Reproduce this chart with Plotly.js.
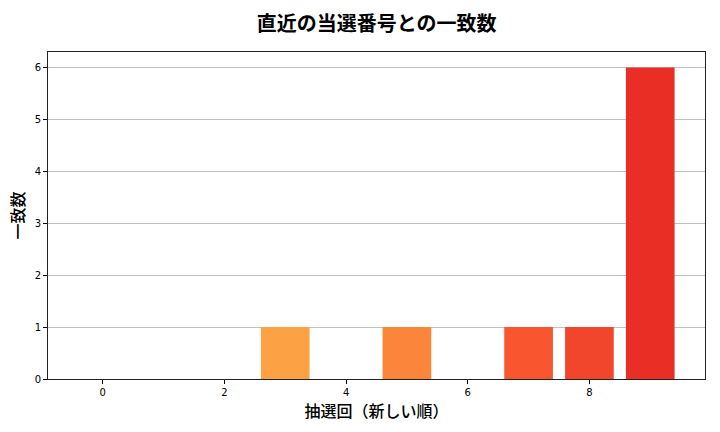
<!DOCTYPE html>
<html>
<head>
<meta charset="utf-8">
<script src="https://cdn.plot.ly/plotly-3.0.1.min.js"></script>
<style>html,body{margin:0;padding:0;background:#fff;}#chart{width:720px;height:432px;}</style>
</head>
<body>
<div id="chart"></div>
<script>
const drawIndex = [0, 1, 2, 3, 4, 5, 6, 7, 8, 9];
const matchCount = [0, 0, 0, 1, 0, 1, 0, 1, 1, 6];
const barColors = ['#ffe37f', '#fed06c', '#febc5b', '#fca245', '#fb923f', '#fb863b', '#fa6a33', '#f9552e', '#f1462b', '#e92f25'];
const xTicks = [0, 2, 4, 6, 8];
const yTicks = [0, 1, 2, 3, 4, 5, 6];

const trace = {
  type: 'bar',
  x: drawIndex,
  y: matchCount,
  width: 0.8,
  marker: {color: barColors, line: {width: 0}},
  hoverinfo: 'x+y'
};

const layout = {
  width: 720, height: 432,
  paper_bgcolor: '#fff', plot_bgcolor: '#fff',
  margin: {l: 48, r: 15, t: 52, b: 53},
  showlegend: false,
  title: {
    text: '直近の当選番号との一致数',
    font: {family: 'Noto Sans CJK JP', size: 20, color: '#000', weight: 'bold'},
    x: 0.523, xanchor: 'center', y: 0.944, yanchor: 'middle'
  },
  xaxis: {
    range: [-0.9, 9.9],
    tickvals: xTicks, ticktext: xTicks.map(String),
    ticks: 'outside', ticklen: 4, tickcolor: '#000', tickwidth: 1,
    showline: true, linecolor: '#222', linewidth: 1, mirror: true,
    showgrid: false, zeroline: false,
    tickfont: {family: 'DejaVu Sans', size: 10, color: '#000'},
    title: {text: '抽選回（新しい順）', font: {family: 'Noto Sans CJK JP', size: 16, color: '#000', weight: 500}, standoff: 2}
  },
  yaxis: {
    range: [0, 6.3],
    tickvals: yTicks, ticktext: yTicks.map(String),
    ticks: 'outside', ticklen: 4, tickcolor: '#000', tickwidth: 1,
    showline: true, linecolor: '#222', linewidth: 1, mirror: true,
    showgrid: true, gridcolor: 'rgba(176,176,176,0.8)', gridwidth: 1,
    zeroline: false, layer: 'above traces',
    tickfont: {family: 'DejaVu Sans', size: 10, color: '#000'},
    title: {text: '一致数', font: {family: 'Noto Sans CJK JP', size: 16, color: '#000', weight: 500}, standoff: 6}
  },
  bargap: 0.2
};

Plotly.newPlot('chart', [trace], layout, {staticPlot: true, displayModeBar: false});
</script>
</body>
</html>
